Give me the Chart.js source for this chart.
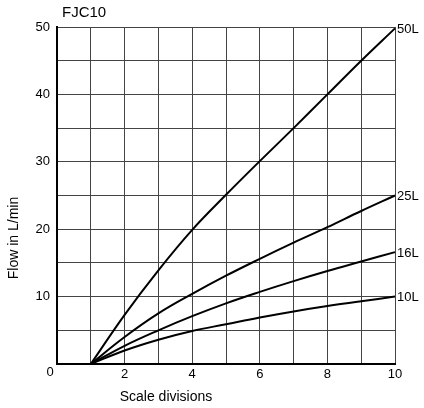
<!DOCTYPE html>
<html>
<head>
<meta charset="utf-8">
<script src="https://cdn.jsdelivr.net/npm/chart.js@4"></script>
<style>
  html, body { margin: 0; padding: 0; background: #fff; }
  #wrap { width: 424px; height: 408px; }
</style>
</head>
<body>
<div id="wrap"><canvas id="flowChart"></canvas></div>
<script>
const divisions = [1, 2, 3, 4, 5, 6, 7, 8, 9, 10];
const flow50 = [0, 7.3, 13.9, 19.9, 25.1, 30.1, 35.0, 40.0, 45.0, 49.8];
const flow25 = [0, 4.0, 7.5, 10.4, 13.1, 15.6, 18.0, 20.3, 22.7, 25.0];
const flow16 = [0, 2.7, 5.0, 7.1, 9.0, 10.7, 12.3, 13.8, 15.2, 16.6];
const flow10 = [0, 2.0, 3.6, 4.9, 5.9, 6.9, 7.8, 8.6, 9.3, 10.0];
const seriesLabels = ["50L", "25L", "16L", "10L"];

const FONT = "'Liberation Sans', Arial, sans-serif";

function points(values) {
    return values.map((v, i) => ({ x: divisions[i], y: v }));
}

const makeSet = (label, values) => ({
    label: label,
    data: points(values),
    borderColor: "#000",
    borderWidth: 2,
    pointRadius: 0,
    tension: 0.4,
    fill: false,
    clip: false
});

// Texts the axes can't place where the original has them
const extraText = {
    id: "extraText",
    afterDraw(chart) {
        const c = chart.ctx;
        const xs = chart.scales.x;
        const ys = chart.scales.y;
        c.save();
        c.fillStyle = "#000";
        c.font = "13px " + FONT;
        c.textBaseline = "middle";
        c.textAlign = "left";
        chart.data.datasets.forEach(ds => {
            const last = ds.data[ds.data.length - 1];
            c.fillText(ds.label, xs.getPixelForValue(last.x) + 2, ys.getPixelForValue(last.y) + 1);
        });
        c.textAlign = "center";
        c.fillText("0", 50, 372);
        c.font = "14px " + FONT;
        c.fillText("Scale divisions", 166, 397);
        c.font = "15px " + FONT;
        c.textAlign = "left";
        c.fillText("FJC10", 62, 13);
        c.font = "14px " + FONT;
        c.translate(14, 238);
        c.rotate(-Math.PI / 2);
        c.textAlign = "center";
        c.fillText("Flow in L/min", 0, 0);
        c.restore();
    }
};

new Chart(document.getElementById("flowChart"), {
    type: "line",
    data: {
        datasets: [
            makeSet(seriesLabels[0], flow50),
            makeSet(seriesLabels[1], flow25),
            makeSet(seriesLabels[2], flow16),
            makeSet(seriesLabels[3], flow10)
        ]
    },
    options: {
        responsive: true,
        maintainAspectRatio: false,
        animation: false,
        layout: { padding: { top: 27, right: 29, left: 0, bottom: 0 } },
        plugins: {
            legend: { display: false },
            tooltip: { enabled: false }
        },
        scales: {
            x: {
                type: "linear",
                min: 0,
                max: 10,
                grid: { color: "#444", lineWidth: 1, drawTicks: false },
                border: { color: "#000", width: 2 },
                ticks: {
                    stepSize: 1,
                    padding: 3,
                    color: "#000",
                    font: { family: FONT, size: 13 },
                    maxRotation: 0,
                    autoSkip: false,
                    callback: v => (v > 0 && v % 2 === 0) ? String(v) : ""
                },
                afterFit: s => { s.height = 44; }
            },
            y: {
                min: 0,
                max: 50,
                grid: { color: "#444", lineWidth: 1, drawTicks: false },
                border: { color: "#000", width: 2 },
                ticks: {
                    stepSize: 5,
                    padding: 7,
                    color: "#000",
                    font: { family: FONT, size: 13 },
                    autoSkip: false,
                    callback: v => (v > 0 && v % 10 === 0) ? String(v) : ""
                },
                afterFit: s => { s.width = 57; }
            }
        }
    },
    plugins: [extraText]
});
</script>
</body>
</html>
